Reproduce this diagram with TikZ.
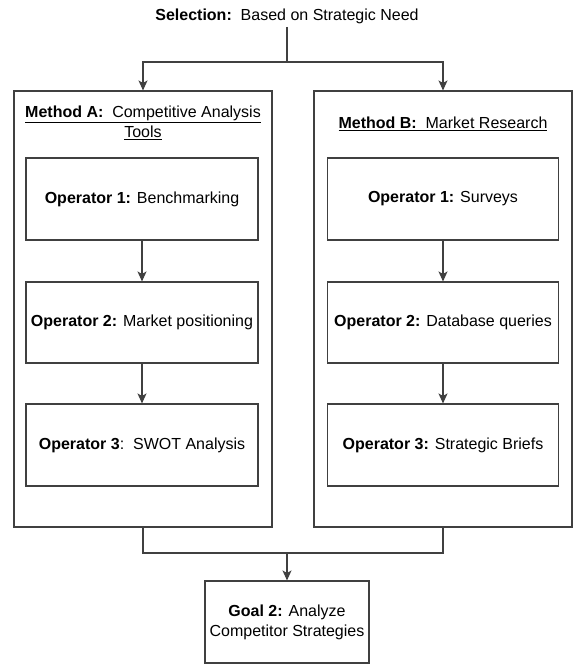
\documentclass[tikz,border=0pt]{standalone}
\usepackage{fontspec}
\setmainfont{Liberation Sans}
\usetikzlibrary{arrows.meta}
\begin{document}
\begin{tikzpicture}[x=1pt,y=-1pt,
  every node/.style={font=\fontsize{16}{20}\selectfont, text=black},
  box/.style={draw=black!75, line width=1.1pt, rectangle, inner sep=0pt, fill=white},
  conn/.style={draw=black!75, line width=1.1pt},
  arr/.style={conn, -{Stealth[length=10pt,width=9pt,inset=2.5pt]}}
]
\useasboundingbox (0,0) rectangle (575,664);
% selection
\node (sel) at (287,16) {\textbf{Selection:}\ \ Based on Strategic Need};
% containers
\node[box, minimum width=258pt, minimum height=436pt] (ma) at (143,309) {};
\node[box, minimum width=258pt, minimum height=436pt] (mb) at (443,309) {};
% titles
\node[align=center] (ta) at (143,123) {\underline{\textbf{Method A:}\ \ Competitive Analysis}\\\underline{Tools}};
\node (tb) at (443,124) {\underline{\textbf{Method B:}\ \ Market Research}};
% operators left
\node[box, minimum width=232pt, minimum height=82pt] (a1) at (142,199) {\textbf{Operator 1:} Benchmarking};
\node[box, minimum width=232pt, minimum height=81pt] (a2) at (142,322.5) {\textbf{Operator 2:} Market positioning};
\node[box, minimum width=232pt, minimum height=82pt] (a3) at (142,445) {\textbf{Operator 3}:\ \ SWOT Analysis};
% operators right
\node[box, minimum width=231pt, minimum height=82pt] (b1) at (443,199) {\textbf{Operator 1:} Surveys};
\node[box, minimum width=231pt, minimum height=81pt] (b2) at (443,322.5) {\textbf{Operator 2:} Database queries};
\node[box, minimum width=231pt, minimum height=82pt] (b3) at (443,445) {\textbf{Operator 3:} Strategic Briefs};
% goal
\node[box, align=center, minimum width=164pt, minimum height=82pt] (goal) at (287,622) {\textbf{Goal 2:} Analyze\\Competitor Strategies};
% connectors
\coordinate (j1) at (287,62);
\coordinate (j2) at (287,553);
\draw[conn] (sel.south) -- (j1);
\draw[arr] (j1) -| (ma.north);
\draw[arr] (j1) -| (mb.north);
\draw[arr] (a1) -- (a2);
\draw[arr] (a2) -- (a3);
\draw[arr] (b1) -- (b2);
\draw[arr] (b2) -- (b3);
\draw[conn] (ma.south) |- (j2);
\draw[conn] (mb.south) |- (j2);
\draw[arr] (j2) -- (goal.north);
\end{tikzpicture}
\end{document}
